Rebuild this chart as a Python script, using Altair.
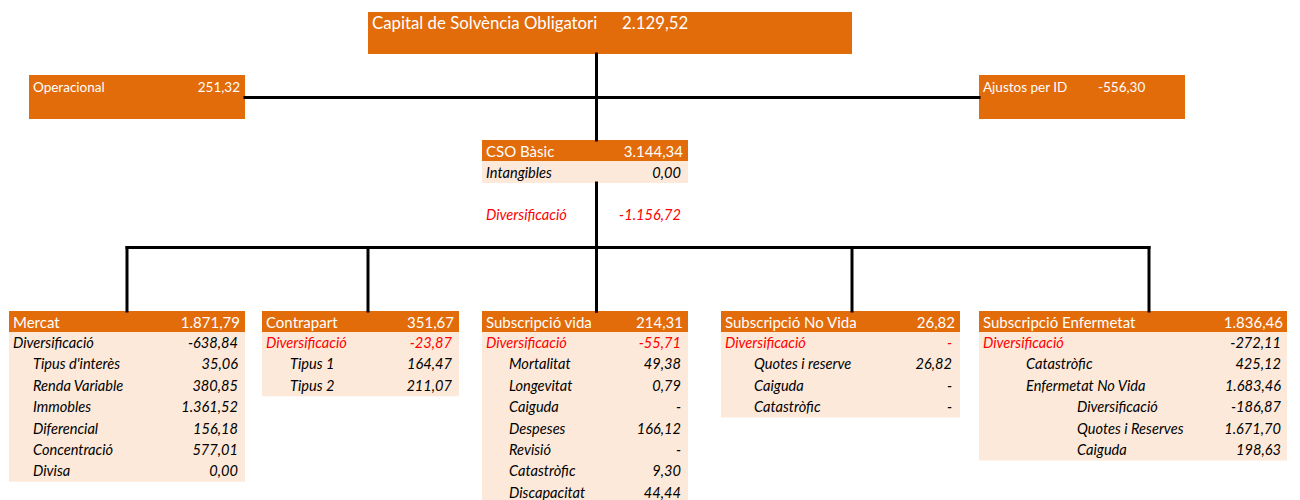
import altair as alt
import pandas as pd

# ---------------- data ----------------
top_label = "Capital de Solvència Obligatori"
top_value = 2129.52
op_label = "Operacional"
op_value = 251.32
adj_label = "Ajustos per ID"
adj_value = -556.30
bscr_label = "CSO Bàsic"
bscr_value = 3144.34
intang_label = "Intangibles"
intang_value = 0.00
bscr_div_label = "Diversificació"
bscr_div_value = -1156.72

module_names = ["Mercat", "Contrapart", "Subscripció vida",
                "Subscripció No Vida", "Subscripció Enfermetat"]
module_totals = [1871.79, 351.67, 214.31, 26.82, 1836.46]

mercat_items = ["Diversificació", "Tipus d'interès", "Renda Variable", "Immobles",
                "Diferencial", "Concentració", "Divisa"]
mercat_values = [-638.84, 35.06, 380.85, 1361.52, 156.18, 577.01, 0.00]
mercat_levels = [0, 1, 1, 1, 1, 1, 1]

contrapart_items = ["Diversificació", "Tipus 1", "Tipus 2"]
contrapart_values = [-23.87, 164.47, 211.07]
contrapart_levels = [0, 1, 1]

vida_items = ["Diversificació", "Mortalitat", "Longevitat", "Caiguda", "Despeses",
              "Revisió", "Catastròfic", "Discapacitat"]
vida_values = [-55.71, 49.38, 0.79, None, 166.12, None, 9.30, 44.44]
vida_levels = [0, 1, 1, 1, 1, 1, 1, 1]

novida_items = ["Diversificació", "Quotes i reserves", "Caiguda", "Catastròfic"]
novida_values = [None, 26.82, None, None]
novida_levels = [0, 1, 1, 1]

enf_items = ["Diversificació", "Catastròfic", "Enfermetat No Vida", "Diversificació",
             "Quotes i Reserves", "Caiguda"]
enf_values = [-272.11, 425.12, 1683.46, -186.87, 1671.70, 198.63]
enf_levels = [0, 1, 1, 2, 2, 2]

module_items = [mercat_items, contrapart_items, vida_items, novida_items, enf_items]
module_values = [mercat_values, contrapart_values, vida_values, novida_values, enf_values]
module_levels = [mercat_levels, contrapart_levels, vida_levels, novida_levels, enf_levels]

# ---------------- styles / layout ----------------
ORANGE = "#E26B0A"
LIGHT = "#FDE9D9"
RED = "#FF0000"
BLACK = "#000000"
WHITE = "#FFFFFF"
FONT = "Lato"

TOP_SIZE = 16.8
SIDE_SIZE = 13.5
HEAD_SIZE = 15
ROW_SIZE = 14.6

# red flags (label, value) for the first row of each module
module_red_label = [False, True, True, True, True]
module_red_value = [False, True, True, True, False]

module_box_x = [(9, 245), (262, 459), (482, 688), (721, 960), (979, 1287)]
module_drop_x = [127, 368, 596.5, 852, 1149]
module_indent = [[13, 33], [266, 290], [486, 509], [725, 754], [983, 1026, 1077]]
module_value_right = [238, 452, 681, 952, 1281]
module_header_value_right = [240, 454, 683, 955, 1283]
module_label_bound = [None, None, None, 857, None]

HEADER_TOP = 311
HEADER_H = 21
ROW_H = 21.4

W, H = 1284, 492


def fmt(v):
    if v is None:
        return "-"
    s = f"{abs(v):,.2f}".replace(",", "X").replace(".", ",").replace("X", ".")
    return ("-" if v < 0 else "") + s


rects, rules = [], []
txt = []  # dicts: x, y, text, color, align, italic, size, limit


def add_text(x, y, t, color, align, italic, size, limit=0):
    txt.append(dict(x=x, y=y, text=t, color=color, align=align,
                    italic=italic, size=size, limit=limit))


# top box
rects.append(dict(x=368, x2=852, y=12, y2=54, fill=ORANGE))
add_text(372, 24, top_label, WHITE, "left", False, TOP_SIZE)
add_text(622, 24, fmt(top_value), WHITE, "left", False, TOP_SIZE)

# operacional / ajustos
rects.append(dict(x=29, x2=245, y=75, y2=119, fill=ORANGE))
add_text(33, 87.5, op_label, WHITE, "left", False, SIDE_SIZE)
add_text(240, 87.5, fmt(op_value), WHITE, "right", False, SIDE_SIZE)
rects.append(dict(x=979, x2=1185, y=75, y2=119, fill=ORANGE))
add_text(983, 87.5, adj_label, WHITE, "left", False, SIDE_SIZE)
add_text(1098, 87.5, fmt(adj_value), WHITE, "left", False, SIDE_SIZE)

# CSO basic
rects.append(dict(x=482, x2=688, y=140, y2=161, fill=ORANGE))
rects.append(dict(x=482, x2=688, y=161, y2=183, fill=LIGHT))
add_text(486, 152, bscr_label, WHITE, "left", False, HEAD_SIZE)
add_text(683, 152, fmt(bscr_value), WHITE, "right", False, HEAD_SIZE)
add_text(486, 173.5, intang_label, BLACK, "left", True, ROW_SIZE)
add_text(681, 173.5, fmt(intang_value), BLACK, "right", True, ROW_SIZE)
add_text(486, 216, bscr_div_label, RED, "left", True, ROW_SIZE)
add_text(681, 216, fmt(bscr_div_value), RED, "right", True, ROW_SIZE)

# connector lines
TRUNK = 596.5
rules.append(dict(x=TRUNK, x2=TRUNK, y=54, y2=140))
rules.append(dict(x=TRUNK, x2=TRUNK, y=183, y2=311))
rules.append(dict(x=245, x2=979, y=97.5, y2=97.5))
rules.append(dict(x=module_drop_x[0], x2=module_drop_x[-1], y=247.5, y2=247.5))
for dx in module_drop_x:
    rules.append(dict(x=dx, x2=dx, y=247.5, y2=HEADER_TOP))

# module boxes
for m, name in enumerate(module_names):
    x0, x1 = module_box_x[m]
    items = module_items[m]
    vals = module_values[m]
    lv = module_levels[m]
    rects.append(dict(x=x0, x2=x1, y=HEADER_TOP, y2=HEADER_TOP + HEADER_H, fill=ORANGE))
    body_top = HEADER_TOP + HEADER_H
    rects.append(dict(x=x0, x2=x1, y=body_top, y2=body_top + ROW_H * len(items), fill=LIGHT))
    add_text(module_indent[m][0], HEADER_TOP + 12.3, name, WHITE, "left", False, HEAD_SIZE)
    add_text(module_header_value_right[m], HEADER_TOP + 12.3, fmt(module_totals[m]),
             WHITE, "right", False, HEAD_SIZE)
    for i, (lab, v, l) in enumerate(zip(items, vals, lv)):
        cy = body_top + ROW_H * i + 12
        lx = module_indent[m][l]
        lc = RED if (i == 0 and module_red_label[m]) else BLACK
        vc = RED if (i == 0 and module_red_value[m]) else BLACK
        bound = module_label_bound[m]
        lim = (bound - lx) if bound is not None else 0
        add_text(lx, cy, lab, lc, "left", True, ROW_SIZE, lim)
        add_text(module_value_right[m], cy, fmt(v), vc, "right", True, ROW_SIZE)

rect_df = pd.DataFrame(rects)
rule_df = pd.DataFrame(rules)
txt_df = pd.DataFrame(txt)

xs = alt.Scale(domain=[8, 8 + W], range=[0, W])
ys = alt.Scale(domain=[8, 8 + H], range=[0, H])

rect_layer = alt.Chart(rect_df).mark_rect().encode(
    x=alt.X("x:Q", scale=xs, axis=None), x2="x2:Q",
    y=alt.Y("y:Q", scale=ys, axis=None), y2="y2:Q",
    color=alt.Color("fill:N", scale=None),
)

rule_layer = alt.Chart(rule_df).mark_rule(strokeWidth=3, color="black", strokeCap="square").encode(
    x=alt.X("x:Q", scale=xs, axis=None), x2="x2:Q",
    y=alt.Y("y:Q", scale=ys, axis=None), y2="y2:Q",
)

layers = [rect_layer, rule_layer]
groups = txt_df.groupby(["align", "italic", "size", "limit"])
for (align, italic, size, limit), g in groups:
    kw = dict(align=align, baseline="middle", font=FONT, fontSize=float(size),
              fontStyle="italic" if italic else "normal")
    if limit:
        kw["limit"] = float(limit)
        kw["ellipsis"] = "\u200b"
    layers.append(
        alt.Chart(g.reset_index(drop=True)).mark_text(**kw).encode(
            x=alt.X("x:Q", scale=xs, axis=None),
            y=alt.Y("y:Q", scale=ys, axis=None),
            text="text:N",
            color=alt.Color("color:N", scale=None),
        )
    )

chart = alt.layer(*layers).properties(
    width=W, height=H, padding=0, autosize="none"
).configure_view(stroke=None)

chart.save("out.html", embed_options={"renderer": "svg", "actions": False})
